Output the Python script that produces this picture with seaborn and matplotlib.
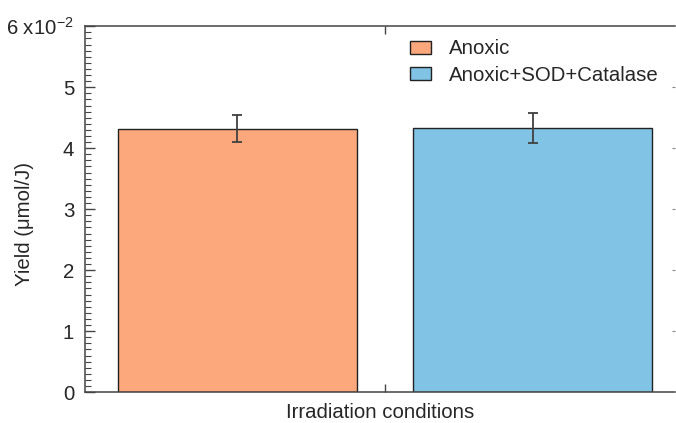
import pandas as pd
import matplotlib.pyplot as plt
import seaborn as sns
from matplotlib.ticker import MultipleLocator

# data (yield in units of 1e-2 umol/J)
conditions = ['Anoxic', 'Anoxic+SOD+Catalase']
yields = [4.32, 4.33]
errors = [0.22, 0.25]
colors = ['#FCA77C', '#80C3E5']
ytick_labels = ['0', '1', '2', '3', '4', '5', r'6 x10$^{\mathregular{-2}}$']

df = pd.DataFrame({'group': ['Irradiation conditions'] * 2,
                   'condition': conditions,
                   'yield': yields})

sns.set_style('ticks')
plt.rcParams['font.family'] = ['Liberation Sans', 'DejaVu Sans']
plt.rcParams['mathtext.fontset'] = 'custom'
plt.rcParams['mathtext.rm'] = 'Liberation Sans'

fig, ax = plt.subplots(figsize=(6.76, 4.23), dpi=100)
fig.subplots_adjust(left=0.126, right=0.999, top=0.938, bottom=0.073)

sns.barplot(data=df, x='group', y='yield', hue='condition', hue_order=conditions,
            palette=colors, saturation=1, width=1.0, gap=0.19, errorbar=None,
            edgecolor='#222222', linewidth=1.0, ax=ax)

# error bars at the bar centres
for cont, val, err in zip(ax.containers, yields, errors):
    for bar in cont:
        ax.errorbar(bar.get_x() + bar.get_width() / 2, val, yerr=err,
                    fmt='none', ecolor='#404040', elinewidth=1.3,
                    capsize=3.8, capthick=1.3)

ax.set_xlim(-0.508, 0.492)
ax.set_ylim(0, 6)
ax.yaxis.set_major_locator(MultipleLocator(1))
ax.yaxis.set_minor_locator(MultipleLocator(0.1))
ax.set_yticks(range(7))
ax.set_yticklabels(ytick_labels)
ax.set_xticks([0])
ax.set_xticklabels([''])

fs = 14.7
ax.tick_params(axis='y', which='major', direction='in', length=7, width=1,
               color='#444444', labelsize=fs, left=True, right=False, pad=8)
ax.tick_params(axis='y', which='minor', direction='in', length=4, width=0.8,
               color='#444444', left=True, right=False)
ax.tick_params(axis='x', which='major', direction='in', length=6, width=1,
               color='#444444', top=True, bottom=True)

# tiny ticks on the right edge
rax = ax.secondary_yaxis('right')
rax.set_yticks(range(1, 6))
rax.tick_params(direction='in', length=2.5, width=0.8, color='#888888',
                labelright=False)
rax.spines['right'].set_visible(False)

for side in ['left', 'bottom', 'top']:
    ax.spines[side].set_color('#444444')
    ax.spines[side].set_linewidth(1.1)
ax.spines['right'].set_visible(False)

ax.set_xlabel('Irradiation conditions', fontsize=fs, labelpad=4)
ax.set_ylabel('Yield (μmol/J)', fontsize=fs)
ax.yaxis.set_label_coords(-0.087, 0.46)

ax.legend(loc='upper left', bbox_to_anchor=(0.52, 1.014), frameon=False,
          fontsize=fs, handlelength=1.0, handleheight=0.6,
          labelspacing=0.35, handletextpad=0.9)

plt.savefig('out.png', dpi=100)
